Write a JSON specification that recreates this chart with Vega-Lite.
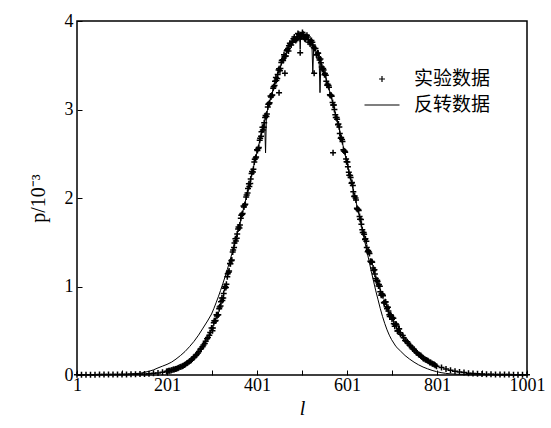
{
"$schema":"https://vega.github.io/schema/vega-lite/v6.json",
"width":450,"height":354,
"autosize":{"type":"none"},
"padding":{"left":77,"top":21,"right":24,"bottom":53},
"background":"white",
"config":{
"font":"Liberation Serif",
"view":{"stroke":"black","strokeWidth":1.5},
"axis":{"domain":false,"grid":false,"tickColor":"black","tickSize":-5,"tickWidth":1,"labelFont":"Liberation Serif","labelFontSize":18,"labelColor":"black","titleFont":"Liberation Serif","titleFontSize":20,"titleColor":"black","titleFontWeight":"normal","labelOverlap":false,"labelFlush":false}
},
"datasets":{
"inv":[{"l":1,"p":0.002},{"l":21,"p":0.003},{"l":41,"p":0.003},{"l":61,"p":0.004},{"l":81,"p":0.006},{"l":101,"p":0.008},{"l":121,"p":0.012},{"l":141,"p":0.02},{"l":151,"p":0.03},{"l":161,"p":0.042},{"l":171,"p":0.058},{"l":181,"p":0.08},{"l":191,"p":0.1},{"l":201,"p":0.12},{"l":211,"p":0.145},{"l":221,"p":0.18},{"l":231,"p":0.22},{"l":241,"p":0.265},{"l":251,"p":0.32},{"l":261,"p":0.38},{"l":271,"p":0.45},{"l":281,"p":0.53},{"l":291,"p":0.61},{"l":300,"p":0.689},{"l":305,"p":0.75},{"l":310,"p":0.815},{"l":315,"p":0.883},{"l":320,"p":0.955},{"l":325,"p":1.031},{"l":330,"p":1.11},{"l":335,"p":1.192},{"l":340,"p":1.278},{"l":345,"p":1.367},{"l":350,"p":1.46},{"l":355,"p":1.555},{"l":360,"p":1.653},{"l":365,"p":1.754},{"l":370,"p":1.856},{"l":375,"p":1.96},{"l":380,"p":2.066},{"l":385,"p":2.172},{"l":390,"p":2.28},{"l":395,"p":2.388},{"l":400,"p":2.495},{"l":405,"p":2.601},{"l":410,"p":2.707},{"l":415,"p":2.81},{"l":418,"p":2.87},{"l":420,"p":2.51},{"l":422,"p":2.95},{"l":425,"p":3.009},{"l":430,"p":3.104},{"l":435,"p":3.195},{"l":440,"p":3.282},{"l":445,"p":3.364},{"l":450,"p":3.441},{"l":455,"p":3.512},{"l":460,"p":3.576},{"l":465,"p":3.634},{"l":470,"p":3.685},{"l":475,"p":3.729},{"l":480,"p":3.765},{"l":485,"p":3.793},{"l":490,"p":3.814},{"l":495,"p":3.826},{"l":496,"p":3.827},{"l":497,"p":3.68},{"l":498,"p":3.829},{"l":500,"p":3.83},{"l":505,"p":3.826},{"l":510,"p":3.814},{"l":515,"p":3.793},{"l":520,"p":3.765},{"l":523,"p":3.745},{"l":525,"p":3.41},{"l":527,"p":3.71},{"l":530,"p":3.68},{"l":535,"p":3.63},{"l":539,"p":3.58},{"l":541,"p":3.19},{"l":543,"p":3.535},{"l":545,"p":3.5},{"l":550,"p":3.42},{"l":555,"p":3.34},{"l":560,"p":3.25},{"l":565,"p":3.16},{"l":570,"p":3.06},{"l":575,"p":2.96},{"l":580,"p":2.86},{"l":585,"p":2.75},{"l":590,"p":2.64},{"l":595,"p":2.53},{"l":600,"p":2.42},{"l":605,"p":2.31},{"l":610,"p":2.2},{"l":615,"p":2.09},{"l":620,"p":1.98},{"l":625,"p":1.87},{"l":630,"p":1.76},{"l":635,"p":1.64},{"l":640,"p":1.52},{"l":645,"p":1.4},{"l":650,"p":1.29},{"l":655,"p":1.17},{"l":660,"p":1.06},{"l":665,"p":0.95},{"l":670,"p":0.85},{"l":675,"p":0.75},{"l":680,"p":0.66},{"l":685,"p":0.58},{"l":690,"p":0.51},{"l":695,"p":0.45},{"l":700,"p":0.4},{"l":710,"p":0.32},{"l":720,"p":0.27},{"l":730,"p":0.22},{"l":740,"p":0.18},{"l":750,"p":0.145},{"l":760,"p":0.115},{"l":770,"p":0.09},{"l":780,"p":0.07},{"l":790,"p":0.052},{"l":800,"p":0.038},{"l":810,"p":0.027},{"l":820,"p":0.019},{"l":830,"p":0.013},{"l":850,"p":0.007},{"l":875,"p":0.004},{"l":900,"p":0.002},{"l":950,"p":0.001},{"l":1001,"p":0.001}],
"exp":[{"l":1,"p":0.003},{"l":11,"p":0.003},{"l":21,"p":0.004},{"l":31,"p":0.004},{"l":41,"p":0.004},{"l":51,"p":0.005},{"l":61,"p":0.005},{"l":71,"p":0.005},{"l":81,"p":0.006},{"l":91,"p":0.006},{"l":101,"p":0.006},{"l":111,"p":0.007},{"l":121,"p":0.008},{"l":131,"p":0.009},{"l":141,"p":0.01},{"l":151,"p":0.012},{"l":161,"p":0.015},{"l":171,"p":0.019},{"l":181,"p":0.024},{"l":191,"p":0.031},
{"l":200,"p":0.04},{"l":205,"p":0.047},{"l":210,"p":0.05},{"l":215,"p":0.062},{"l":220,"p":0.068},{"l":225,"p":0.075},{"l":230,"p":0.09},{"l":235,"p":0.1},{"l":240,"p":0.113},{"l":245,"p":0.133},{"l":250,"p":0.15},{"l":255,"p":0.168},{"l":260,"p":0.198},{"l":265,"p":0.22},{"l":270,"p":0.248},{"l":275,"p":0.29},{"l":280,"p":0.32},{"l":285,"p":0.355},{"l":290,"p":0.41},{"l":295,"p":0.45},
{"l":202,"p":0.043},{"l":207,"p":0.048},{"l":212,"p":0.057},{"l":217,"p":0.063},{"l":222,"p":0.072},{"l":227,"p":0.082},{"l":232,"p":0.093},{"l":237,"p":0.105},{"l":242,"p":0.122},{"l":247,"p":0.138},{"l":252,"p":0.157},{"l":257,"p":0.18},{"l":262,"p":0.205},{"l":267,"p":0.232},{"l":272,"p":0.265},{"l":277,"p":0.3},{"l":282,"p":0.34},{"l":287,"p":0.38},{"l":292,"p":0.425},{"l":297,"p":0.48},
{"l":300,"p":0.53},{"l":303,"p":0.53},{"l":306,"p":0.614},{"l":309,"p":0.616},{"l":312,"p":0.668},{"l":315,"p":0.68},{"l":318,"p":0.768},{"l":321,"p":0.828},{"l":324,"p":0.842},{"l":327,"p":0.92},{"l":330,"p":1.0},{"l":333,"p":1.026},{"l":336,"p":1.144},{"l":339,"p":1.176},{"l":342,"p":1.258},{"l":345,"p":1.3},{"l":348,"p":1.412},{"l":351,"p":1.491},{"l":354,"p":1.514},{"l":357,"p":1.594},{"l":360,"p":1.673},{"l":363,"p":1.694},{"l":366,"p":1.804},{"l":369,"p":1.826},{"l":372,"p":1.898},{"l":375,"p":1.93},{"l":378,"p":2.034},{"l":381,"p":2.107},{"l":384,"p":2.131},{"l":387,"p":2.215},{"l":390,"p":2.3},{"l":393,"p":2.325},{"l":396,"p":2.439},{"l":399,"p":2.464},{"l":402,"p":2.537},{"l":405,"p":2.571},{"l":408,"p":2.675},{"l":411,"p":2.748},{"l":414,"p":2.769},{"l":417,"p":2.85},{"l":420,"p":2.931},{"l":423,"p":2.95},{"l":426,"p":3.058},{"l":429,"p":3.075},{"l":432,"p":3.14},{"l":435,"p":3.165},{"l":438,"p":3.257},{"l":441,"p":3.318},{"l":444,"p":3.328},{"l":447,"p":3.395},{"l":450,"p":3.461},{"l":453,"p":3.464},{"l":456,"p":3.555},{"l":459,"p":3.553},{"l":462,"p":3.599},{"l":465,"p":3.604},{"l":468,"p":3.675},
{"l":302,"p":0.5},{"l":305,"p":0.59},{"l":308,"p":0.61},{"l":311,"p":0.68},{"l":314,"p":0.68},{"l":317,"p":0.75},{"l":320,"p":0.78},{"l":323,"p":0.87},{"l":326,"p":0.87},{"l":329,"p":0.98},{"l":332,"p":0.99},{"l":335,"p":1.11},{"l":338,"p":1.162},{"l":341,"p":1.26},{"l":344,"p":1.29},{"l":347,"p":1.39},{"l":350,"p":1.44},{"l":353,"p":1.54},{"l":356,"p":1.545},{"l":359,"p":1.65},{"l":362,"p":1.66},{"l":365,"p":1.77},{"l":368,"p":1.815},{"l":371,"p":1.91},{"l":374,"p":1.92},{"l":377,"p":2.01},{"l":380,"p":2.056},{"l":383,"p":2.16},{"l":386,"p":2.164},{"l":389,"p":2.278},{"l":392,"p":2.293},{"l":395,"p":2.408},{"l":398,"p":2.452},{"l":401,"p":2.546},{"l":404,"p":2.56},{"l":407,"p":2.653},{"l":410,"p":2.697},{"l":413,"p":2.8},{"l":416,"p":2.8},{"l":419,"p":2.91},{"l":422,"p":2.92},{"l":425,"p":3.029},{"l":428,"p":3.066},{"l":431,"p":3.152},{"l":434,"p":3.157},{"l":437,"p":3.24},{"l":440,"p":3.272},{"l":443,"p":3.361},{"l":446,"p":3.349},{"l":449,"p":3.446},{"l":452,"p":3.439},{"l":455,"p":3.532},{"l":458,"p":3.563},{"l":461,"p":3.618},{"l":464,"p":3.602},{"l":467,"p":3.664},
{"l":470,"p":3.69},{"l":472,"p":3.72},{"l":475,"p":3.74},{"l":477,"p":3.73},{"l":480,"p":3.77},{"l":482,"p":3.8},{"l":485,"p":3.79},{"l":487,"p":3.78},{"l":490,"p":3.82},{"l":492,"p":3.86},{"l":495,"p":3.83},{"l":497,"p":3.8},{"l":500,"p":3.84},{"l":502,"p":3.87},{"l":505,"p":3.82},{"l":507,"p":3.8},{"l":510,"p":3.82},{"l":512,"p":3.84},{"l":515,"p":3.79},{"l":517,"p":3.76},{"l":520,"p":3.77},{"l":522,"p":3.78},{"l":525,"p":3.73},{"l":527,"p":3.7},{"l":529,"p":3.69},
{"l":471,"p":3.66},{"l":474,"p":3.75},{"l":479,"p":3.76},{"l":484,"p":3.82},{"l":489,"p":3.79},{"l":494,"p":3.85},{"l":499,"p":3.82},{"l":504,"p":3.85},{"l":509,"p":3.79},{"l":514,"p":3.82},{"l":519,"p":3.74},{"l":524,"p":3.76},
{"l":531,"p":3.69},{"l":534,"p":3.62},{"l":537,"p":3.636},{"l":540,"p":3.56},{"l":543,"p":3.528},{"l":546,"p":3.454},{"l":549,"p":3.446},{"l":552,"p":3.408},{"l":555,"p":3.32},{"l":558,"p":3.286},{"l":561,"p":3.252},{"l":564,"p":3.158},{"l":567,"p":3.15},{"l":570,"p":3.05},{"l":573,"p":3.0},{"l":576,"p":2.91},{"l":579,"p":2.89},{"l":582,"p":2.836},{"l":585,"p":2.73},{"l":588,"p":2.684},{"l":591,"p":2.638},{"l":594,"p":2.532},{"l":597,"p":2.516},{"l":600,"p":2.41},{"l":603,"p":2.354},{"l":606,"p":2.258},{"l":609,"p":2.232},{"l":612,"p":2.176},{"l":615,"p":2.07},{"l":618,"p":2.024},{"l":621,"p":1.978},{"l":624,"p":1.872},{"l":627,"p":1.86},{"l":630,"p":1.76},{"l":633,"p":1.704},{"l":636,"p":1.61},{"l":639,"p":1.59},{"l":642,"p":1.54},{"l":645,"p":1.44},{"l":648,"p":1.406},{"l":651,"p":1.372},{"l":654,"p":1.278},{"l":657,"p":1.274},{"l":660,"p":1.18},{"l":663,"p":1.142},{"l":666,"p":1.064},{"l":669,"p":1.056},{"l":672,"p":1.022},{"l":675,"p":0.94},{"l":678,"p":0.918},{"l":681,"p":0.896},{"l":684,"p":0.814},{"l":687,"p":0.826},{"l":690,"p":0.75},{"l":693,"p":0.724},{"l":696,"p":0.66},{"l":699,"p":0.67},{"l":702,"p":0.65},{"l":705,"p":0.58},{"l":708,"p":0.573},{"l":711,"p":0.566},{"l":714,"p":0.499},{"l":717,"p":0.524},{"l":720,"p":0.46},
{"l":533,"p":3.62},{"l":536,"p":3.638},{"l":539,"p":3.582},{"l":542,"p":3.572},{"l":545,"p":3.48},{"l":548,"p":3.462},{"l":551,"p":3.394},{"l":554,"p":3.386},{"l":557,"p":3.274},{"l":560,"p":3.27},{"l":563,"p":3.166},{"l":566,"p":3.16},{"l":569,"p":3.08},{"l":572,"p":3.05},{"l":575,"p":2.94},{"l":578,"p":2.91},{"l":581,"p":2.828},{"l":584,"p":2.802},{"l":587,"p":2.676},{"l":590,"p":2.66},{"l":593,"p":2.544},{"l":596,"p":2.528},{"l":599,"p":2.442},{"l":602,"p":2.406},{"l":605,"p":2.29},{"l":608,"p":2.254},{"l":611,"p":2.168},{"l":614,"p":2.142},{"l":617,"p":2.016},{"l":620,"p":2.0},{"l":623,"p":1.884},{"l":626,"p":1.87},{"l":629,"p":1.79},{"l":632,"p":1.756},{"l":635,"p":1.64},{"l":638,"p":1.61},{"l":641,"p":1.53},{"l":644,"p":1.51},{"l":647,"p":1.394},{"l":650,"p":1.39},{"l":653,"p":1.286},{"l":656,"p":1.282},{"l":659,"p":1.208},{"l":662,"p":1.188},{"l":665,"p":1.09},{"l":668,"p":1.072},{"l":671,"p":1.006},{"l":674,"p":1.004},{"l":677,"p":0.902},{"l":680,"p":0.91},{"l":683,"p":0.818},{"l":686,"p":0.828},{"l":689,"p":0.772},{"l":692,"p":0.766},{"l":695,"p":0.68},{"l":698,"p":0.68},{"l":701,"p":0.63},{"l":704,"p":0.64},{"l":707,"p":0.552},{"l":710,"p":0.575},{"l":713,"p":0.498},{"l":716,"p":0.522},{"l":719,"p":0.478},
{"l":725,"p":0.445},{"l":730,"p":0.39},{"l":735,"p":0.375},{"l":740,"p":0.335},{"l":745,"p":0.31},{"l":750,"p":0.29},{"l":755,"p":0.255},{"l":760,"p":0.235},{"l":765,"p":0.22},{"l":770,"p":0.19},{"l":775,"p":0.175},{"l":780,"p":0.165},{"l":785,"p":0.14},{"l":790,"p":0.13},{"l":795,"p":0.12},{"l":800,"p":0.1},
{"l":727,"p":0.42},{"l":732,"p":0.385},{"l":737,"p":0.355},{"l":742,"p":0.33},{"l":747,"p":0.295},{"l":752,"p":0.275},{"l":757,"p":0.25},{"l":762,"p":0.225},{"l":767,"p":0.205},{"l":772,"p":0.185},{"l":777,"p":0.17},{"l":782,"p":0.155},{"l":787,"p":0.14},{"l":792,"p":0.125},{"l":797,"p":0.11},
{"l":811,"p":0.085},{"l":821,"p":0.068},{"l":831,"p":0.054},{"l":841,"p":0.043},{"l":851,"p":0.034},{"l":861,"p":0.027},{"l":871,"p":0.021},{"l":881,"p":0.017},{"l":891,"p":0.013},{"l":901,"p":0.011},{"l":911,"p":0.009},{"l":921,"p":0.008},{"l":931,"p":0.007},{"l":941,"p":0.006},{"l":951,"p":0.005},{"l":961,"p":0.005},{"l":971,"p":0.004},{"l":981,"p":0.004},{"l":991,"p":0.003},{"l":1001,"p":0.003},
{"l":450,"p":3.19},{"l":463,"p":3.41},{"l":497,"p":3.64},{"l":528,"p":3.41},{"l":570,"p":2.51}]
},
"encoding":{
"x":{"field":"l","type":"quantitative","scale":{"domain":[1,1001],"nice":false,"zero":false},"axis":{"title":"l","titleFontStyle":"italic","format":"d","values":[1,101,201,301,401,501,601,701,801,901,1001],"labelExpr":"(datum.value - 1) % 200 === 0 ? datum.label : ''","labelPadding":6,"titlePadding":4}},
"y":{"field":"p","type":"quantitative","scale":{"domain":[0,4],"nice":false,"zero":true},"axis":{"title":"p/10⁻³","format":"d","values":[0,0.5,1,1.5,2,2.5,3,3.5,4],"labelExpr":"datum.value % 1 === 0 ? datum.label : ''","labelPadding":9,"titlePadding":16}}
},
"layer":[
{"data":{"name":"inv"},"mark":{"type":"line","color":"black","strokeWidth":1,"clip":false}},
{"data":{"name":"exp"},"mark":{"type":"point","filled":false,"stroke":"black","strokeWidth":1.5,"size":400,"opacity":1},
"encoding":{"shape":{"datum":"实验数据","type":"nominal","scale":{"domain":["实验数据","反转数据"],"range":["M-0.3,0H0.3M0,-0.3V0.3","M-1.75,0H1.75"]},"legend":{"orient":"none","legendX":294,"legendY":47,"title":null,"symbolSize":400,"symbolStrokeColor":"black","symbolFillColor":"transparent","symbolStrokeWidth":1.2,"labelFont":"Noto Sans CJK SC","labelFontSize":19,"labelOffset":21,"rowPadding":5,"padding":0,"labelColor":"black"}}}}
]
}
